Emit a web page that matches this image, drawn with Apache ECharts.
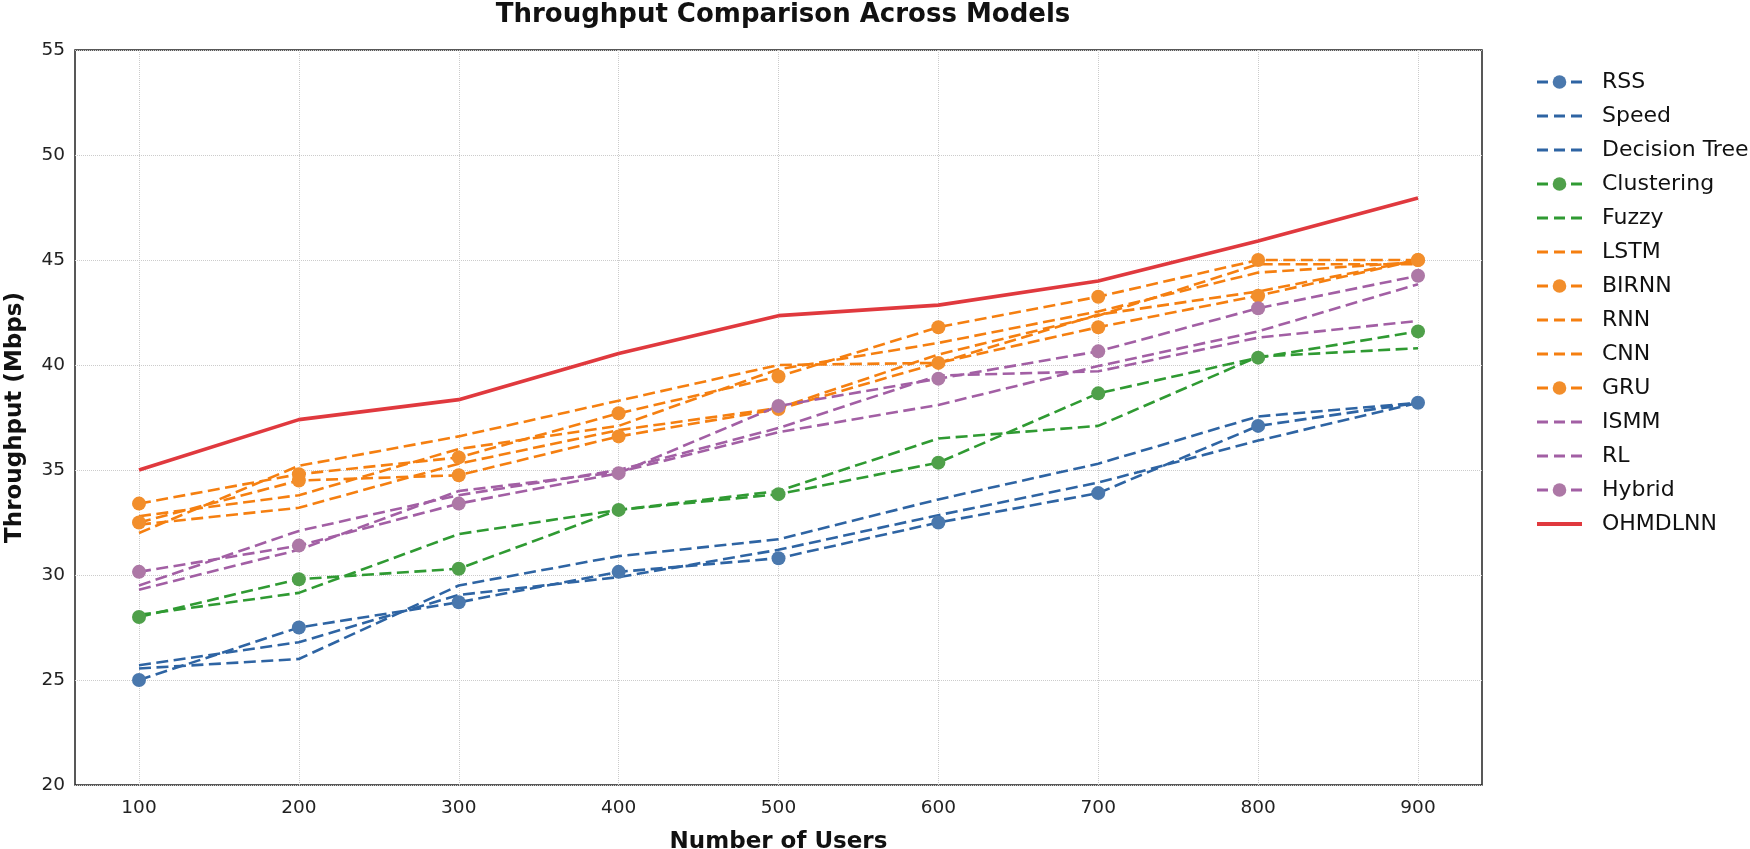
<!DOCTYPE html>
<html>
<head>
<meta charset="utf-8">
<script src="https://cdn.jsdelivr.net/npm/echarts@6/dist/echarts.min.js"></script>
<style>
html,body{margin:0;padding:0;background:#fff;}
#chart{width:1750px;height:849px;}
</style>
</head>
<body>
<div id="chart"></div>
<script>
const users = [100, 200, 300, 400, 500, 600, 700, 800, 900];
const yTicks = [20, 25, 30, 35, 40, 45, 50, 55];

const rss          = [25.0, 27.5, 28.7, 30.15, 30.8, 32.5, 33.9, 37.1, 38.2];
const speed        = [25.7, 26.8, 29.05, 29.9, 31.2, 32.85, 34.4, 36.4, 38.2];
const decisionTree = [25.55, 26.0, 29.5, 30.9, 31.7, 33.6, 35.3, 37.55, 38.2];
const clustering   = [28.0, 29.8, 30.3, 33.1, 33.85, 35.35, 38.65, 40.35, 41.6];
const fuzzy        = [28.1, 29.15, 31.95, 33.1, 34.0, 36.5, 37.1, 40.4, 40.8];
const lstm         = [32.0, 35.2, 36.6, 38.3, 40.0, 40.1, 42.4, 43.5, 45.0];
const birnn        = [33.4, 34.8, 35.6, 37.7, 39.45, 41.8, 43.25, 45.0, 45.0];
const rnn          = [32.8, 33.8, 36.0, 37.1, 39.8, 41.05, 42.55, 44.4, 44.9];
const cnn          = [32.4, 33.2, 35.3, 36.9, 37.95, 40.5, 42.35, 44.8, 44.8];
const gru          = [32.5, 34.5, 34.75, 36.6, 37.9, 40.1, 41.8, 43.3, 45.0];
const ismm         = [29.5, 32.1, 33.8, 35.0, 37.0, 39.5, 39.7, 41.3, 42.1];
const rl           = [29.3, 31.2, 34.0, 34.9, 36.8, 38.1, 39.95, 41.6, 43.85];
const hybrid       = [30.15, 31.4, 33.4, 34.85, 38.05, 39.35, 40.65, 42.7, 44.25];
const ohmdlnn      = [35.0, 37.4, 38.35, 40.55, 42.35, 42.85, 44.0, 45.9, 47.95];

const BLUE = '#2e64a3', BLUE_M = '#4a78ad';
const GREEN = '#2f9a32', GREEN_M = '#4fa04a';
const ORANGE = '#f57f10', ORANGE_M = '#f28e2b';
const PURPLE = '#a25fa4', PURPLE_M = '#ad78a6';
const RED = '#e0393e';

const seriesDefs = [
  ['RSS', rss, BLUE, BLUE_M, true],
  ['Speed', speed, BLUE, BLUE_M, false],
  ['Decision Tree', decisionTree, BLUE, BLUE_M, false],
  ['Clustering', clustering, GREEN, GREEN_M, true],
  ['Fuzzy', fuzzy, GREEN, GREEN_M, false],
  ['LSTM', lstm, ORANGE, ORANGE_M, false],
  ['BIRNN', birnn, ORANGE, ORANGE_M, true],
  ['RNN', rnn, ORANGE, ORANGE_M, false],
  ['CNN', cnn, ORANGE, ORANGE_M, false],
  ['GRU', gru, ORANGE, ORANGE_M, true],
  ['ISMM', ismm, PURPLE, PURPLE_M, false],
  ['RL', rl, PURPLE, PURPLE_M, false],
  ['Hybrid', hybrid, PURPLE, PURPLE_M, true]
];

const DASH = [12, 5.5];

const series = seriesDefs.map(([name, vals, lc, mc, marker]) => ({
  name: name,
  type: 'line',
  xAxisIndex: 0,
  yAxisIndex: 0,
  clip: false,
  data: users.map((u, i) => [u, vals[i]]),
  symbol: marker ? 'circle' : 'none',
  symbolSize: 14,
  showSymbol: marker,
  itemStyle: { color: mc },
  lineStyle: { color: lc, width: 2.6, type: DASH },
  emphasis: { disabled: true },
  animation: false
}));
series.push({
  name: 'OHMDLNN',
  type: 'line',
  xAxisIndex: 0,
  yAxisIndex: 0,
  clip: false,
  data: users.map((u, i) => [u, ohmdlnn[i]]),
  symbol: 'none',
  itemStyle: { color: RED },
  lineStyle: { color: RED, width: 3.6, type: 'solid' },
  emphasis: { disabled: true },
  animation: false
});

const HIDDEN = { color: 'rgba(0,0,0,0)', borderWidth: 0, opacity: 0 };
const legendData = seriesDefs.map(d => ({
  name: d[0],
  itemStyle: d[4] ? {} : HIDDEN,
  lineStyle: { width: 3, type: [11, 6] }
}));
legendData.push({ name: 'OHMDLNN', itemStyle: HIDDEN, lineStyle: { width: 4, type: 'solid' } });

const chart = echarts.init(document.getElementById('chart'));
chart.setOption({
  backgroundColor: '#fff',
  animation: false,
  title: {
    text: 'Throughput Comparison Across Models',
    left: 778, top: -3, textAlign: 'center',
    textStyle: { fontFamily: 'DejaVu Sans', fontWeight: 'bold', fontSize: 26, color: '#111' }
  },
  legend: {
    orient: 'vertical',
    left: 1530, top: 65,
    itemWidth: 45, itemHeight: 17,
    itemGap: 10,
    textStyle: { fontFamily: 'DejaVu Sans', fontSize: 22, color: '#111', lineHeight: 24, padding: [0, 0, 0, 15] },
    data: legendData
  },
  grid: [
    { left: 139, right: 332, top: 50, bottom: 64, show: false, outerBoundsMode: 'none', containLabel: false },
    { left: 75, right: 268, top: 50, bottom: 64, show: true, borderColor: '#222', borderWidth: 1.5, backgroundColor: 'transparent', z: 0, outerBoundsMode: 'none', containLabel: false }
  ],
  xAxis: [
    {
      type: 'value', gridIndex: 0, min: 100, max: 900, interval: 100,
      axisLine: { show: false }, axisTick: { show: false },
      axisLabel: { margin: 14, fontFamily: 'DejaVu Sans', fontSize: 18.5, color: '#222' },
      splitLine: { show: true, lineStyle: { type: 'dotted', color: '#cccccc', width: 1 } },
      name: 'Number of Users', nameLocation: 'middle', nameGap: 46,
      nameTextStyle: { fontFamily: 'DejaVu Sans', fontWeight: 'bold', fontSize: 23, color: '#111' }
    },
    {
      type: 'value', gridIndex: 1, min: 0, max: 1, show: false
    }
  ],
  yAxis: [
    {
      type: 'value', gridIndex: 0, min: 20, max: 55, interval: 5, show: false,
      splitLine: { show: false }
    },
    {
      type: 'value', gridIndex: 1, min: 20, max: 55, interval: 5,
      axisLine: { show: false }, axisTick: { show: false },
      axisLabel: { margin: 10, fontFamily: 'DejaVu Sans', fontSize: 18.5, color: '#222',
        formatter: v => (yTicks.indexOf(v) >= 0 ? String(v) : '') },
      splitLine: { show: true, lineStyle: { type: 'dotted', color: '#cccccc', width: 1 } },
      name: 'Throughput (Mbps)', nameLocation: 'middle', nameGap: 48,
      nameTextStyle: { fontFamily: 'DejaVu Sans', fontWeight: 'bold', fontSize: 23, color: '#111' }
    }
  ],
  series: series
});
</script>
</body>
</html>
